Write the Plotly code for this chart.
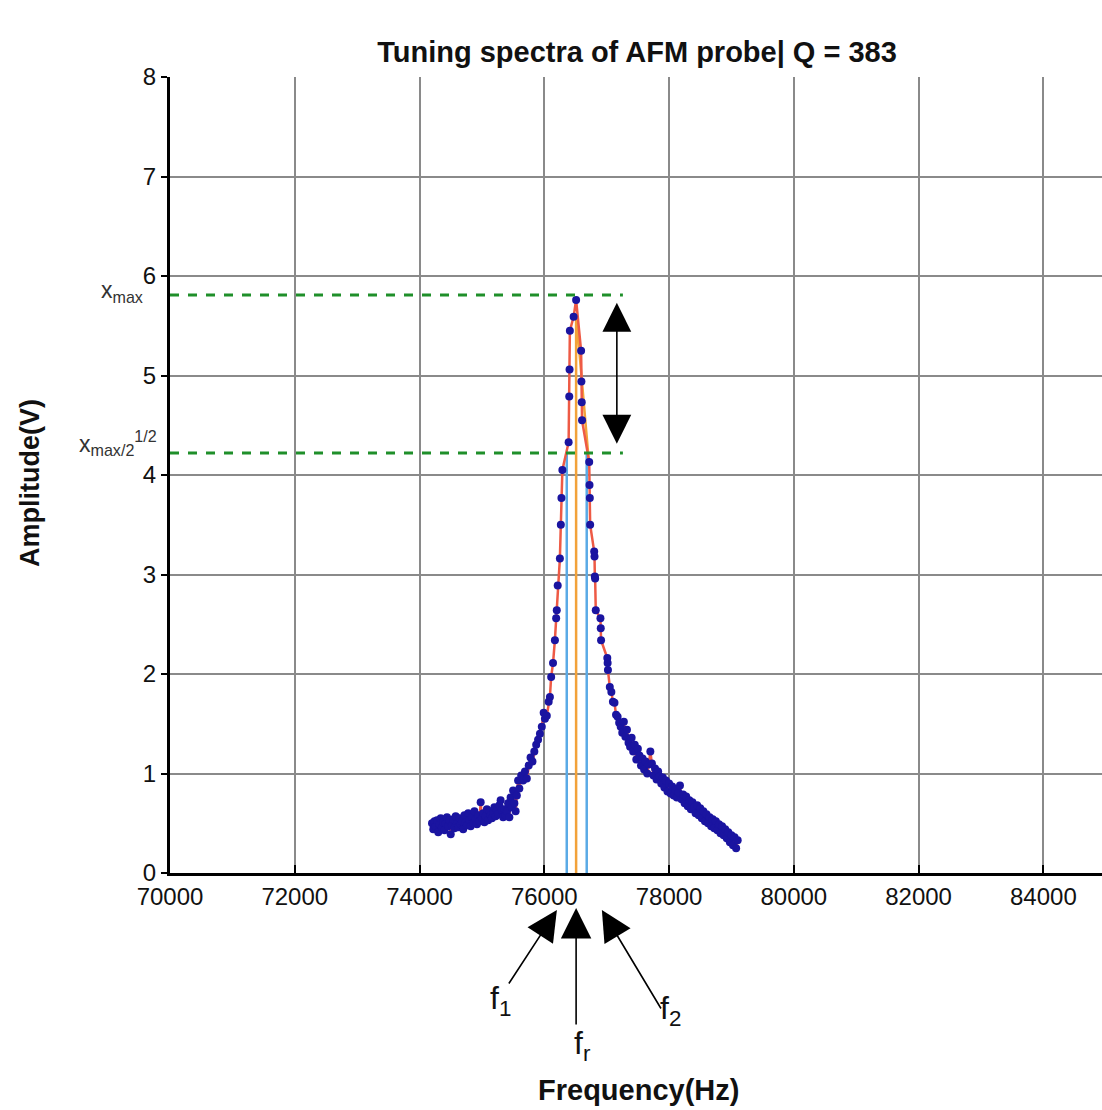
import plotly.graph_objects as go

# ---------------- data ----------------
tail_left_f = [74200 + 20 * i for i in range(70)]
tail_left_a = [0.50, 0.44, 0.52, 0.47, 0.53, 0.41, 0.49, 0.55, 0.46, 0.51,
               0.43, 0.50, 0.56, 0.47, 0.53, 0.39, 0.48, 0.54, 0.45, 0.57,
               0.50, 0.46, 0.55, 0.49, 0.52, 0.44, 0.58, 0.51, 0.48, 0.60,
               0.53, 0.47, 0.56, 0.50, 0.62, 0.54, 0.49, 0.58, 0.52, 0.71,
               0.55, 0.60, 0.51, 0.57, 0.64, 0.53, 0.62, 0.58, 0.55, 0.60,
               0.66, 0.57, 0.63, 0.59, 0.68, 0.73, 0.63, 0.56, 0.64, 0.58,
               0.62, 0.70, 0.56, 0.76, 0.66, 0.83, 0.70, 0.62, 0.78, 0.93]

peak_f = [75600, 75630, 75660, 75690, 75720, 75750, 75780, 75810, 75840, 75870,
          75900, 75930, 75960, 75990, 76010, 76040, 76070, 76090, 76110, 76140,
          76170, 76190, 76200, 76215, 76250, 76265, 76275, 76290, 76390, 76400,
          76405, 76410, 76470, 76510, 76590, 76595, 76600, 76605, 76720, 76725,
          76730, 76735, 76800, 76805, 76810, 76815, 76825, 76900, 76905, 76910,
          77010, 77015, 77020]
peak_a = [0.85, 0.98, 0.93, 1.02, 0.95, 1.08, 1.16, 1.12, 1.22, 1.29,
          1.34, 1.40, 1.47, 1.61, 1.55, 1.58, 1.72, 1.77, 1.97, 2.11,
          2.34, 2.56, 2.64, 2.89, 3.16, 3.50, 3.77, 4.05, 4.33, 4.79,
          5.06, 5.45, 5.59, 5.76, 5.25, 4.94, 4.73, 4.55, 4.13, 3.90,
          3.77, 3.50, 3.23, 3.18, 2.98, 2.96, 2.64, 2.56, 2.46, 2.34,
          2.16, 2.11, 2.04]

tail_right_f = [77050 + 25 * i for i in range(83)]
tail_right_a = [1.87, 1.82, 1.72, 1.71, 1.59, 1.57, 1.51, 1.47, 1.41, 1.52,
                1.37, 1.44, 1.31, 1.27, 1.36, 1.22, 1.29, 1.14, 1.25, 1.18,
                1.08, 1.15, 1.04, 1.12, 1.00, 1.09, 1.22, 1.10, 0.98, 1.05,
                0.94, 1.02, 0.97, 0.90, 0.96, 0.86, 0.93, 0.82, 0.90, 0.80,
                0.87, 0.78, 0.84, 0.76, 0.81, 0.88, 0.74, 0.79, 0.70, 0.77,
                0.67, 0.73, 0.64, 0.71, 0.66, 0.60, 0.68, 0.58, 0.65, 0.55,
                0.62, 0.52, 0.59, 0.50, 0.56, 0.47, 0.54, 0.45, 0.52, 0.43,
                0.49, 0.40, 0.47, 0.38, 0.44, 0.35, 0.41, 0.31, 0.38, 0.28,
                0.36, 0.25, 0.33]

freq = tail_left_f + peak_f + tail_right_f
amp = tail_left_a + peak_a + tail_right_a

f1, fr, f2 = 76360, 76510, 76680
x_max = 5.81
x_half = 4.22
fit_f = [fr, fr, 76715]
fit_a = [0.0, 5.62, 4.13]
arrow_f = 77163
arrow_top, arrow_bot = 5.73, 4.30
dash_end = 77260

x_ticks = [70000, 72000, 74000, 76000, 78000, 80000, 82000, 84000]
y_ticks = [0, 1, 2, 3, 4, 5, 6, 7, 8]

# ---------------- figure ----------------
fig = go.Figure()

for fv in [f1, f2]:
    fig.add_trace(go.Scatter(x=[fv, fv], y=[0, x_half], mode="lines",
                             line=dict(color="#5aaae6", width=2.5), showlegend=False,
                             hoverinfo="skip"))
fig.add_trace(go.Scatter(x=fit_f, y=fit_a, mode="lines",
                         line=dict(color="#f2a23a", width=2.5), showlegend=False,
                         hoverinfo="skip"))

fig.add_trace(go.Scatter(x=freq, y=amp, mode="lines+markers",
                         line=dict(color="#ee5a45", width=2.5),
                         marker=dict(color="#1a14a0", size=8),
                         showlegend=False))

for yv in [x_max, x_half]:
    fig.add_shape(type="line", x0=70000, x1=dash_end, y0=yv, y1=yv,
                  xref="x", yref="y", line=dict(color="#1f8f2a", width=3, dash="dash"))

FONT = "Liberation Sans, Arial, sans-serif"

fig.add_annotation(x=arrow_f, y=arrow_top, ax=arrow_f, ay=arrow_bot,
                   xref="x", yref="y", axref="x", ayref="y", text="",
                   showarrow=True, arrowside="start+end", arrowhead=2,
                   arrowsize=3.6, arrowwidth=1.6, arrowcolor="black")

plot_h = 796.0
def py(p):
    return (873 - p) / plot_h

def px(p):
    return (p - 170) / 932.0

for tip_f, tip_py, dx, dy in [(76202, 910, -49, 75), (76510, 908, 0, 118), (76923, 910, 60, 100)]:
    fig.add_annotation(x=tip_f, y=py(tip_py), xref="x", yref="paper", ax=dx, ay=dy,
                       text="", showarrow=True, arrowhead=2, arrowsize=3.8,
                       arrowwidth=1.6, arrowcolor="black")

def label(x, y, text, font, angle=0):
    fig.add_annotation(x=px(x), y=py(y), xref="paper", yref="paper",
                       xanchor="center", yanchor="middle", text=text,
                       showarrow=False, font=font, textangle=angle)

lab_font = dict(family=FONT, size=32, color="#111")
label(500, 1000, "f<sub>1</sub>", lab_font)
label(582, 1045, "f<sub>r</sub>", lab_font)
label(670, 1010, "f<sub>2</sub>", lab_font)

xm_font = dict(family=FONT, size=23, color="#333")
label(122, 291, "x<sub>max</sub>", xm_font)
label(118, 443, "x<sub>max/2</sub><sup>1/2</sup>", xm_font)

label(638, 1090, "<b>Frequency(Hz)</b>", dict(family=FONT, size=29, color="#111"))
label(30, 483, "<b>Amplitude(V)</b>", dict(family=FONT, size=27, color="#111"), angle=-90)

fig.update_layout(
    width=1102, height=1110,
    margin=dict(l=170, r=0, t=77, b=237),
    paper_bgcolor="white", plot_bgcolor="white",
    title=dict(text="<b>Tuning spectra of AFM probe| Q = 383</b>",
               x=637 / 1102.0, xanchor="center", y=1 - 52 / 1110.0, yanchor="middle",
               font=dict(family=FONT, size=29, color="#111")),
    font=dict(family=FONT, color="#111"),
)
fig.update_xaxes(range=[70000, 84940], tickvals=x_ticks,
                 ticktext=[str(v) for v in x_ticks],
                 showgrid=True, gridcolor="#8a8a8a", gridwidth=2,
                 showline=True, linecolor="black", linewidth=3,
                 ticks="inside", ticklen=8, tickwidth=2, tickcolor="black",
                 tickfont=dict(family=FONT, size=24, color="#111"),
                 zeroline=False)
fig.update_yaxes(range=[0, 8], tickvals=y_ticks,
                 showgrid=True, gridcolor="#8a8a8a", gridwidth=2,
                 showline=True, linecolor="black", linewidth=3,
                 ticks="outside", ticklen=6, tickwidth=2, tickcolor="black",
                 tickfont=dict(family=FONT, size=24, color="#111"),
                 zeroline=False)

fig.write_html("out.html")
